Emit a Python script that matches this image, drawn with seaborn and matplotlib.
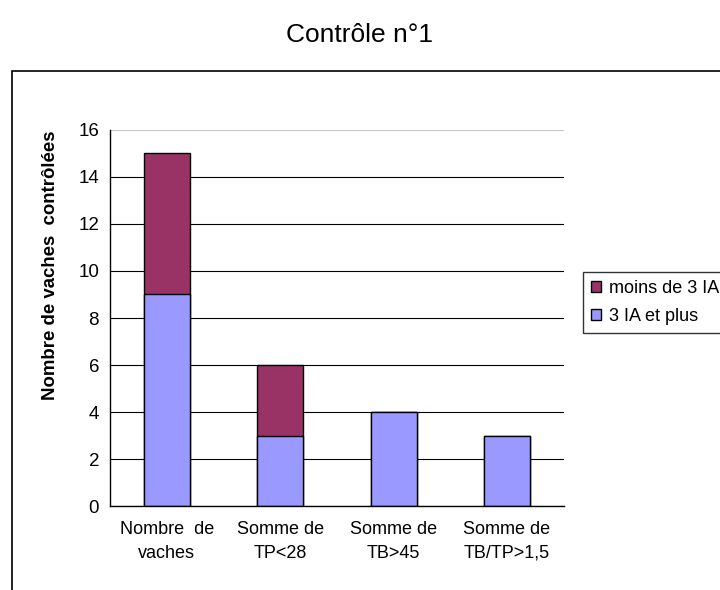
import matplotlib
matplotlib.use("Agg")
import matplotlib.pyplot as plt
import seaborn as sns
import pandas as pd
from matplotlib.patches import Rectangle

# -----------------------
# Data
# -----------------------
categories = ["Nombre  de\nvaches", "Somme de\nTP<28", "Somme de\nTB>45", "Somme de\nTB/TP>1,5"]
ia_3_plus = [9, 3, 4, 3]
ia_moins_3 = [6, 3, 0, 0]
y_ticks = [0, 2, 4, 6, 8, 10, 12, 14, 16]

df = pd.DataFrame({
    "cat": categories,
    "plus": ia_3_plus,
    "moins": ia_moins_3,
})
df["total"] = df["plus"] + df["moins"]

# -----------------------
# Figure setup
# -----------------------
sns.set_theme(style="white")
plt.rcParams["font.family"] = ["Liberation Sans", "DejaVu Sans"]
plt.rcParams["text.color"] = "black"
plt.rcParams["axes.labelcolor"] = "black"
plt.rcParams["xtick.color"] = "black"
plt.rcParams["ytick.color"] = "black"

fig = plt.figure(figsize=(7.2, 5.9), dpi=100)
ax = fig.add_axes([0.153, 0.142, 0.630, 0.638])

# outer frame of the chart area
fig.patches.append(Rectangle((0.0167, -0.05), 1.2, 0.93, transform=fig.transFigure,
                             fill=False, edgecolor="black", linewidth=1.2))

ax.set_axisbelow(True)
ax.yaxis.grid(True, color="black", linewidth=0.8)

# stacked bars: totals in dark color, bottom part drawn over
sns.barplot(data=df, x="cat", y="total", color="#993366", width=0.405,
            edgecolor="black", linewidth=1, saturation=1, label="moins de 3 IA", ax=ax)
sns.barplot(data=df, x="cat", y="plus", color="#9999FF", width=0.405,
            edgecolor="black", linewidth=1, saturation=1, label="3 IA et plus", ax=ax)

handles, labels = ax.get_legend_handles_labels()
if ax.get_legend() is not None:
    ax.get_legend().remove()

ax.set_xlim(-0.5, 3.5)
ax.set_ylim(0, 16)
ax.set_yticks(y_ticks)
ax.get_ygridlines()[-1].set_color("#c8c8c8")

for s in ["top", "right"]:
    ax.spines[s].set_visible(False)
for s in ["left", "bottom"]:
    ax.spines[s].set_color("black")
    ax.spines[s].set_linewidth(1)

ax.tick_params(axis="y", which="major", direction="out", length=5, width=1,
               color="black", labelsize=13.5, pad=3)
ax.tick_params(axis="x", which="major", length=0, labelsize=13, pad=11)
for t in ax.get_xticklabels():
    t.set_linespacing(1.5)
ax.set_xticks([-0.5, 0.5, 1.5, 2.5, 3.5], minor=True)
ax.tick_params(axis="x", which="minor", direction="out", length=5, width=1, color="black")

ax.set_xlabel("")
ax.set_ylabel("Nombre de vaches  contrôlées", fontsize=13.4, fontweight="bold")
ax.yaxis.set_label_coords(-0.112, 0.641)

fig.text(0.5, 0.94, "Contrôle n°1", ha="center", va="center", fontsize=19)

leg = fig.legend(handles, labels, loc="upper left", bbox_to_anchor=(0.81, 0.539),
                 borderaxespad=0, fontsize=13, frameon=True, fancybox=False,
                 edgecolor="black", handlelength=0.55, handleheight=0.55,
                 handletextpad=0.45, borderpad=0.45, labelspacing=0.6)
leg.get_frame().set_linewidth(1)

plt.savefig("out.png", dpi=100)
